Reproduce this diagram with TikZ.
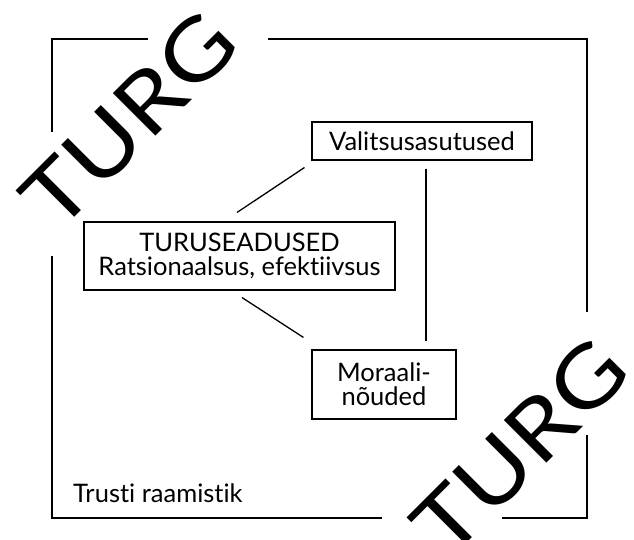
\documentclass[tikz,border=0pt]{standalone}
\usepackage{fontspec}
\setmainfont{Lato}[Ligatures={CommonOff}]
\usetikzlibrary{calc}
\begin{document}
\begin{tikzpicture}[x=1pt,y=-1pt,
  frame/.style={line width=1.7pt, line cap=butt},
  conn/.style={line width=1.3pt},
  box/.style={draw, line width=1.1pt, inner sep=0pt, align=center,
    font=\fontsize{25.5}{24}\selectfont},
  wm/.style={font=\fontsize{84}{84}\selectfont, inner sep=0pt, rotate=45}]
\useasboundingbox (0,0) rectangle (634,540);
% frame
\draw[frame] (148,39) -- (52,39) -- (52,132);
\draw[frame] (268,39) -- (587,39) -- (587,312);
\draw[frame] (52,256) -- (52,518) -- (382,518);
\draw[frame] (502,518) -- (587,518) -- (587,435);
% watermarks
\node[wm] (turg1) at (129,120) {\scalebox{1.17}[1]{TURG}};
\node[wm] (turg2) at (520,447) {\scalebox{1.17}[1]{TURG}};
% boxes
\node[box, minimum width=220pt, minimum height=38pt] (v) at (422,141) {Valitsusasutused};
\node[box, minimum width=311pt, minimum height=68pt] (t) at (239.5,256) {TURUSEADUSED\\Ratsionaalsus, efektiivsus};
\node[box, minimum width=144pt, minimum height=69pt] (m) at (384,384.5) {Moraali-\\nõuded};
% connectors
\draw[conn] ($(v.south west)+(-7,7)$) -- ($(t.north)+(-2.5,-9)$);
\draw[conn] ($(t.south)+(2.5,7)$) -- ($(m.north west)+(-8,-12)$);
\draw[conn] ($(v.south)+(4,8)$) -- ($(m.north)+(42,-8)$);
% label
\node[anchor=base west, inner sep=0pt, font=\fontsize{25.5}{24}\selectfont] (lbl) at (73,502) {Trusti raamistik};
\end{tikzpicture}
\end{document}
